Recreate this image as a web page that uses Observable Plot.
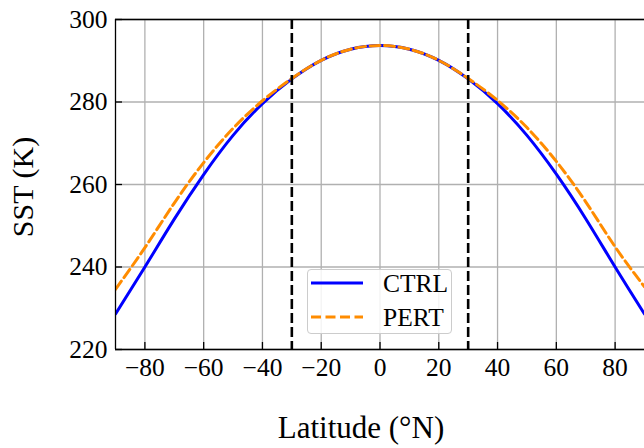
<!DOCTYPE html>
<html>
<head>
<meta charset="utf-8">
<script src="https://cdn.jsdelivr.net/npm/d3@7"></script>
<script src="https://cdn.jsdelivr.net/npm/@observablehq/plot@0.6"></script>
<style>
  html, body { margin: 0; padding: 0; background: #fff; overflow: hidden; }
  #wrap { position: relative; width: 644px; height: 448px; font-family: "Liberation Serif", "DejaVu Serif", serif; }
  #wrap svg.plot { position: absolute; left: 0; top: 0; }
  #wrap svg.plot text { font-family: "Liberation Serif", serif !important; font-variant: normal !important; }
  #overlay { position: absolute; left: 0; top: 0; pointer-events: none; }
  #legend { position: absolute; left: 307px; top: 269px; width: 145px; height: 65px;
            border: 1px solid #cccccc; border-radius: 4px; background: rgba(255,255,255,0.85); box-sizing: border-box; }
</style>
</head>
<body>
<div id="wrap"></div>
<script>
// ---- data ----
const latitudes = [-90, -80, -70, -60, -50, -40, -30, -20, -10, 0, 10, 20, 30, 40, 50, 60, 70, 80, 90];
const ctrlSST   = [228.6, 240.0, 251.6, 262.4, 271.9, 279.6, 285.6, 290.1, 292.8, 293.7, 292.8, 290.1, 285.6, 279.6, 271.9, 262.5, 251.7, 240.0, 228.6];
const pertSST   = [234.6, 244.7, 255.5, 265.3, 273.6, 280.3, 285.7, 290.1, 292.8, 293.7, 292.8, 290.1, 285.7, 280.4, 273.8, 265.6, 255.8, 244.9, 235.2];
const seriesNames = ["CTRL", "PERT"];
const seriesColors = ["#0000ff", "#ff8c00"];
const xTicks = [-80, -60, -40, -20, 0, 20, 40, 60, 80];
const yTicks = [220, 240, 260, 280, 300];
const xDomain = [-90, 90];
const yDomain = [220, 300];
const tropicsEdges = [-30, 30];
const xLabel = "Latitude (°N)";
const yLabel = "SST (K)";

const rows = latitudes.map((lat, i) => ({lat, ctrl: ctrlSST[i], pert: pertSST[i]}));

const W = 644, H = 448;
const tickFont = 25.5;
const serif = "Liberation Serif";

const chart = Plot.plot({
  width: W, height: H,
  marginLeft: 115, marginRight: 0, marginTop: 19, marginBottom: 99,
  style: {fontFamily: serif, fontSize: tickFont + "px", background: "white", color: "black", overflow: "visible"},
  x: {domain: xDomain, label: null},
  y: {domain: yDomain, label: null},
  marks: [
    Plot.gridX(xTicks, {stroke: "#b0b0b0", strokeOpacity: 1, strokeWidth: 1.3}),
    Plot.gridY(yTicks, {stroke: "#b0b0b0", strokeOpacity: 1, strokeWidth: 1.3}),
    Plot.line(rows, {x: "lat", y: "ctrl", stroke: seriesColors[0], strokeWidth: 3, curve: "natural", clip: true}),
    Plot.line(rows, {x: "lat", y: "pert", stroke: seriesColors[1], strokeWidth: 3, strokeDasharray: "10,4.5", curve: "natural", clip: true}),
    Plot.ruleX(tropicsEdges, {stroke: "black", strokeWidth: 2.6, strokeDasharray: "10,4"}),
    Plot.ruleX([xDomain[0]], {stroke: "black", strokeWidth: 1.3}),
    Plot.ruleY(yDomain, {stroke: "black", strokeWidth: 1.3}),
    Plot.axisX(xTicks, {tickSize: -7, tickPadding: 15, stroke: "black", strokeWidth: 1.3, fontSize: tickFont, fontFamily: serif, fill: "black"}),
    Plot.axisY(yTicks, {tickSize: -7, tickPadding: 15, stroke: "black", strokeWidth: 1.3, fontSize: tickFont, fontFamily: serif, fill: "black"})
  ]
});
chart.classList.add("plot");
chart.querySelectorAll("text").forEach(t => { t.setAttribute("font-family", serif); t.style.fontFamily = '"Liberation Serif", serif'; });
const wrap = document.getElementById("wrap");
wrap.appendChild(chart);

// axis labels overlay
const ns = "http://www.w3.org/2000/svg";
const ov = document.createElementNS(ns, "svg");
ov.setAttribute("id", "overlay");
ov.setAttribute("width", W);
ov.setAttribute("height", H);
const xl = document.createElementNS(ns, "text");
xl.setAttribute("x", 361); xl.setAttribute("y", 438);
xl.setAttribute("text-anchor", "middle");
xl.setAttribute("font-size", "31");
xl.setAttribute("font-family", serif);
xl.textContent = xLabel;
ov.appendChild(xl);
const yl = document.createElementNS(ns, "text");
yl.setAttribute("transform", "translate(33,187) rotate(-90)");
yl.setAttribute("text-anchor", "middle");
yl.setAttribute("font-size", "30");
yl.setAttribute("font-family", serif);
yl.textContent = yLabel;
ov.appendChild(yl);
wrap.appendChild(ov);

// legend
const leg = document.createElement("div");
leg.id = "legend";
const ls = document.createElementNS(ns, "svg");
ls.setAttribute("width", 145); ls.setAttribute("height", 65);
ls.style.position = "absolute"; ls.style.left = "-1px"; ls.style.top = "-1px";
const rowsY = [14, 48];
seriesNames.forEach((name, i) => {
  const ln = document.createElementNS(ns, "line");
  ln.setAttribute("x1", 4); ln.setAttribute("x2", 56);
  ln.setAttribute("y1", rowsY[i]); ln.setAttribute("y2", rowsY[i]);
  ln.setAttribute("stroke", seriesColors[i]);
  ln.setAttribute("stroke-width", 3);
  if (i === 1) ln.setAttribute("stroke-dasharray", "10,4.5");
  ls.appendChild(ln);
  const t = document.createElementNS(ns, "text");
  t.setAttribute("x", 76); t.setAttribute("y", rowsY[i]);
  t.setAttribute("dy", "0.34em");
  t.setAttribute("font-size", tickFont);
  t.setAttribute("font-family", serif);
  t.textContent = name;
  ls.appendChild(t);
});
leg.appendChild(ls);
wrap.appendChild(leg);
</script>
</body>
</html>
